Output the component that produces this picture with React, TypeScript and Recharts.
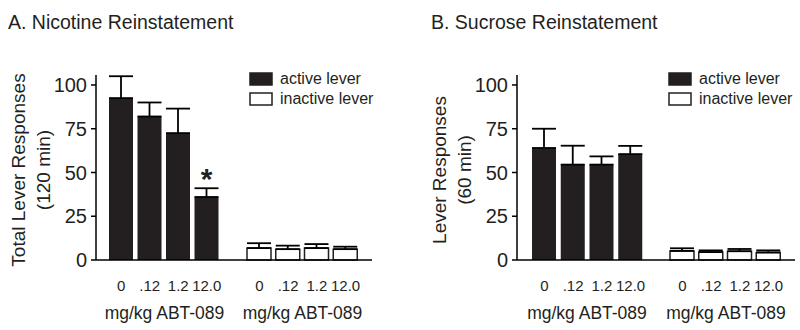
import { BarChart, Bar, XAxis, YAxis, ErrorBar, LabelList, Legend } from "recharts";

const doses = ["0", ".12", "1.2", "12.0"];
const yTicks = [0, 25, 50, 75, 100];

const nicActive = [92.5, 82, 72.5, 36];
const nicActiveErr = [12.5, 8, 14, 5];
const nicInactive = [6.8, 6.2, 6.8, 6.2];
const nicInactiveErr = [2.8, 2.0, 2.3, 1.4];
const nicSig = ["", "", "", "*"];

const sucActive = [64, 54.5, 54.5, 60.5];
const sucActiveErr = [11, 10.8, 4.7, 4.7];
const sucInactive = [5.2, 4.5, 5.0, 4.3];
const sucInactiveErr = [1.5, 1.0, 1.3, 1.2];
const sucSig = ["", "", "", ""];
const noSig = ["", "", "", ""];

const legendItems = [
  { name: "active lever", fill: "#231f20" },
  { name: "inactive lever", fill: "#ffffff" },
];

const INK = "#231f20";
const FONT = "'Liberation Sans', Arial, sans-serif";

type Row = { dose: string; value: number; err: number; sig: string };

const rows = (vals: number[], errs: number[], sig: string[]): Row[] =>
  doses.map((dose, i) => ({ dose, value: vals[i], err: errs[i], sig: sig[i] }));

function LegendBox() {
  return (
    <svg width={128} height={46} style={{ display: "block" }}>
      {legendItems.map((it, i) => (
        <g key={it.name}>
          <rect x={1} y={6 + i * 20} width={22} height={12} fill={it.fill} stroke={INK} strokeWidth={1.5} />
          <text x={31} y={17 + i * 20} fontSize={16} fill={INK} fontFamily={FONT}>
            {it.name}
          </text>
        </g>
      ))}
    </svg>
  );
}

interface GroupProps {
  left: number;
  width: number;
  data: Row[];
  fill: string;
  yAxis?: boolean;
  yLabel?: [string, string];
  pad: { left: number; right: number };
  legendLeft?: number;
  extraRight?: number;
}

function Group({ left, width, data, fill, yAxis, yLabel, pad, legendLeft, extraRight = 0 }: GroupProps) {
  const star = (p: any) => {
    const row = data[p.index];
    if (!row || !row.sig) return null;
    const pxPer = p.height / row.value;
    const top = p.y - row.err * pxPer;
    return (
      <text x={p.x + p.width / 2} y={top + 1} textAnchor="middle" fontSize={30} fontWeight="bold" fill={INK} fontFamily={FONT}>
        {row.sig}
      </text>
    );
  };

  return (
    <div style={{ position: "absolute", left, top: 0 }}>
      <BarChart
        width={width + extraRight}
        height={330}
        data={data}
        margin={{ top: 75, right: extraRight, bottom: 0, left: 0 }}
        barSize={24}
      >
        <XAxis
          dataKey="dose"
          height={70}
          padding={pad}
          tickLine={false}
          tickSize={6}
          tickMargin={14}
          stroke="#000"
          strokeWidth={1.5}
          tick={{ fontSize: 15, fill: INK, fontFamily: FONT }}
          label={{ value: "mg/kg ABT-089", position: "insideBottom", offset: 11, fontSize: 17.5, fill: INK, fontFamily: FONT }}
        />
        <YAxis
          hide={!yAxis}
          width={96}
          domain={[0, 105.7]}
          ticks={yTicks}
          tickSize={5}
          tickMargin={4}
          stroke="#000"
          strokeWidth={1.5}
          tick={{ fontSize: 20, fill: INK, fontFamily: FONT }}
          label={
            yLabel
              ? {
                  content: () => (
                    <g fontFamily={FONT} fontSize={19} fill={INK}>
                      <text transform="translate(18,170) rotate(-90)" textAnchor="middle" dominantBaseline="central">
                        {yLabel[0]}
                      </text>
                      <text transform="translate(43,170) rotate(-90)" textAnchor="middle" dominantBaseline="central">
                        {yLabel[1]}
                      </text>
                    </g>
                  ),
                }
              : undefined
          }
        />
        {legendLeft !== undefined && (
          <Legend
            layout="vertical"
            align="center"
            verticalAlign="middle"
            wrapperStyle={{ top: 67, left: legendLeft, width: 128 }}
            content={() => <LegendBox />}
          />
        )}
        <Bar dataKey="value" fill={fill} stroke={INK} strokeWidth={fill === "#ffffff" ? 1.5 : 0} isAnimationActive={false}>
          <ErrorBar dataKey={(d: Row) => [0, d.err]} width={12} stroke="#000" strokeWidth={1.8} direction="y" />
          <LabelList dataKey="sig" content={star} />
        </Bar>
      </BarChart>
    </div>
  );
}

function Title({ x, text }: { x: number; text: string }) {
  return (
    <div style={{ position: "absolute", left: x, top: 11, fontSize: 19.5, color: INK, fontFamily: FONT, whiteSpace: "nowrap" }}>
      {text}
    </div>
  );
}

export default function App() {
  return (
    <div style={{ position: "absolute", left: 0, top: 0, width: 800, height: 330, background: "#fff", overflow: "hidden" }}>
      <Title x={8} text="A. Nicotine Reinstatement" />
      <Title x={431} text="B. Sucrose Reinstatement" />
      <Group
        left={0}
        width={233}
        data={rows(nicActive, nicActiveErr, nicSig)}
        fill={INK}
        yAxis
        yLabel={["Total Lever Responses", "(120 min)"]}
        pad={{ left: 11, right: 12 }}
      />
      <Group
        left={233}
        width={139}
        extraRight={30}
        data={rows(nicInactive, nicInactiveErr, noSig)}
        fill="#ffffff"
        pad={{ left: 12, right: 12 }}
        legendLeft={16}
      />
      <Group
        left={421}
        width={236}
        data={rows(sucActive, sucActiveErr, sucSig)}
        fill={INK}
        yAxis
        yLabel={["Lever Responses", "(60 min)"]}
        pad={{ left: 13, right: 12 }}
      />
      <Group
        left={657}
        width={138}
        extraRight={5}
        data={rows(sucInactive, sucInactiveErr, noSig)}
        fill="#ffffff"
        pad={{ left: 11, right: 12 }}
        legendLeft={11}
      />
    </div>
  );
}
